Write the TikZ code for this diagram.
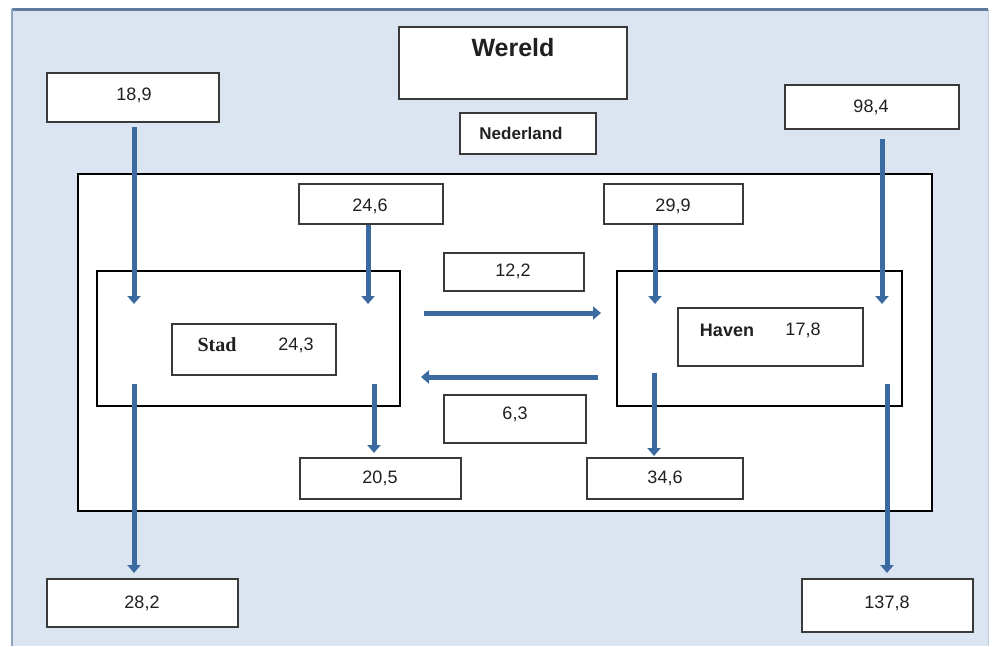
\documentclass[tikz,border=0pt]{standalone}
\usepackage{fontspec}
\setmainfont{Liberation Sans}
\newfontfamily\serifbold{Liberation Serif}
\usetikzlibrary{arrows.meta}
\definecolor{bgblue}{HTML}{DBE5F1}
\definecolor{edgeblue}{HTML}{5F7C9C}
\definecolor{flowblue}{HTML}{3B6AA0}
\definecolor{boxline}{HTML}{3A3A3A}
\definecolor{txt}{HTML}{202020}
\tikzset{
  valbox/.style={draw=boxline, line width=1.3pt, fill=white, inner sep=0pt},
  frame/.style={draw=black, line width=2.6pt, fill=white},
  flow/.style={draw=flowblue, line width=5pt, -{Triangle[width=13pt,length=8pt]}},
  val/.style={text=txt, font=\fontsize{18}{21}\selectfont, inner sep=0pt},
  bval/.style={text=txt, font=\fontsize{18}{21}\selectfont\bfseries, inner sep=0pt}
}
\begin{document}
\begin{tikzpicture}[x=1pt,y=-1pt]
\useasboundingbox (0,0) rectangle (993,646);
% background panel
\fill[white] (0,0) rectangle (993,646);
\fill[bgblue] (12,9) rectangle (988,646);
\draw[edgeblue, line width=3pt] (12,9) -- (988,9);
\draw[edgeblue!70, line width=1.2pt] (12,9) -- (12,646);
\draw[edgeblue!40, line width=1pt] (988,9) -- (988,646);

% big frames
\node[frame, minimum width=854pt, minimum height=337pt] (nl) at (505,342.5) {};
\node[frame, line width=2.2pt, minimum width=303pt, minimum height=135pt] (stadf) at (248.5,338.5) {};
\node[frame, line width=2.2pt, minimum width=285pt, minimum height=135pt] (havenf) at (759.5,338.5) {};

% arrow end points
\coordinate (a1s) at (134,127); \coordinate (a1e) at (134,304);
\coordinate (a2s) at (368,225); \coordinate (a2e) at (368,304);
\coordinate (a3s) at (655,225); \coordinate (a3e) at (655,304);
\coordinate (a4s) at (882,139); \coordinate (a4e) at (882,304);
\coordinate (a5s) at (424,313); \coordinate (a5e) at (601,313);
\coordinate (a6s) at (598,377); \coordinate (a6e) at (421,377);
\coordinate (a7s) at (134,384); \coordinate (a7e) at (134,573);
\coordinate (a8s) at (374,384); \coordinate (a8e) at (374,453);
\coordinate (a9s) at (654,373); \coordinate (a9e) at (654,456);
\coordinate (a10s) at (887,384); \coordinate (a10e) at (887,573);

% value boxes
\node[valbox, minimum width=228pt, minimum height=72pt] (wereld) at (513,63) {};
\node[valbox, minimum width=136pt, minimum height=41pt] (ned) at (528,133.5) {};
\node[valbox, minimum width=172pt, minimum height=49pt] (b189) at (133,97.5) {};
\node[valbox, minimum width=174pt, minimum height=44pt] (b984) at (872,107) {};
\node[valbox, minimum width=144pt, minimum height=40pt] (b246) at (371,204) {};
\node[valbox, minimum width=139pt, minimum height=40pt] (b299) at (673.5,204) {};
\node[valbox, minimum width=140pt, minimum height=38pt] (b122) at (514,272) {};
\node[valbox, minimum width=142pt, minimum height=48pt] (b63) at (515,419) {};
\node[valbox, minimum width=161pt, minimum height=41pt] (b205) at (380.5,478.5) {};
\node[valbox, minimum width=156pt, minimum height=41pt] (b346) at (665,478.5) {};
\node[valbox, minimum width=191pt, minimum height=48pt] (b282) at (142.5,603) {};
\node[valbox, minimum width=171pt, minimum height=53pt] (b1378) at (887.5,605.5) {};
\node[valbox, minimum width=164pt, minimum height=51pt] (stadin) at (254,349.5) {};
\node[valbox, minimum width=185pt, minimum height=58pt] (havenin) at (770.5,337) {};

% arrows
\draw[flow] (a1s) -- (a1e);
\draw[flow] (a2s) -- (a2e);
\draw[flow] (a3s) -- (a3e);
\draw[flow] (a4s) -- (a4e);
\draw[flow] (a5s) -- (a5e);
\draw[flow] (a6s) -- (a6e);
\draw[flow] (a7s) -- (a7e);
\draw[flow] (a8s) -- (a8e);
\draw[flow] (a9s) -- (a9e);
\draw[flow] (a10s) -- (a10e);

% texts
\node[bval, font=\fontsize{25}{28}\selectfont\bfseries] (tw) at (513,48) {Wereld};
\node[bval, font=\fontsize{17}{20}\selectfont\bfseries] (tn) at (521,133) {Nederland};
\node[val] (t189) at (134,95) {18,9};
\node[val] (t984) at (871,107) {98,4};
\node[val] (t246) at (370,206) {24,6};
\node[val] (t299) at (673,206) {29,9};
\node[val] (t122) at (513,271) {12,2};
\node[val] (t63) at (515,414) {6,3};
\node[val] (t205) at (380,478) {20,5};
\node[val] (t346) at (665,478) {34,6};
\node[val] (t282) at (142,603) {28,2};
\node[val] (t1378) at (887,603) {137,8};
\node[bval, font=\fontsize{20}{22}\selectfont\serifbold\bfseries] (tstad) at (217,345) {Stad};
\node[val] (t243) at (296,345) {24,3};
\node[bval] (thaven) at (727,330) {Haven};
\node[val] (t178) at (803,330) {17,8};
\end{tikzpicture}
\end{document}
